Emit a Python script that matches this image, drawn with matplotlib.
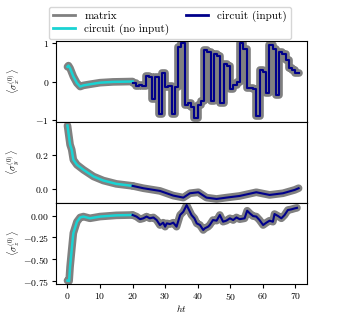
import matplotlib
matplotlib.use("Agg")
import matplotlib.pyplot as plt
from matplotlib.lines import Line2D
import numpy as np

plt.rcParams['font.family'] = 'cmr10'
plt.rcParams['mathtext.fontset'] = 'cm'
plt.rcParams['axes.formatter.use_mathtext'] = True
plt.rcParams['axes.unicode_minus'] = True

# ---- sigma_x (panel 1) ----
tx_free = [0, 0.3, 0.8, 1.8, 2.9, 3.9, 4.9, 7, 10, 14, 20]
sx_free = [0.38, 0.41, 0.34, 0.13, -0.04, -0.13, -0.10, -0.07, -0.03, -0.01, 0.0]
tx_in = list(range(20, 72))
sx_in = [-0.05, -0.12, -0.08, -0.12, 0.15, 0.12, -0.45, 0.12, -0.85, 0.22,
         -0.15, -0.12, -0.85, -0.15, 0.90, 1.00, -0.60, -0.55, -0.65, -0.95,
         -0.60, -0.50, 0.80, 0.75, -0.50, 0.70, 0.65, -0.55, 0.45, 0.40,
         -0.20, -0.10, 0.00, 1.00, 0.85, -0.17, -0.18, -0.20, -0.90, 0.30,
         0.25, -0.30, 0.95, 0.85, -0.35, 0.75, 0.70, 0.55, 0.35, 0.30,
         0.22, 0.22]

# ---- sigma_y (panel 2) ----
ty_free = [0, 0.8, 1.3, 1.8, 2.9, 4.9, 8, 11, 15, 20]
sy_free = [0.378, 0.264, 0.234, 0.174, 0.144, 0.114, 0.074, 0.05, 0.03, 0.018]
ty_in = [20, 23.3, 28.4, 32.5, 35.6, 37.6, 40.2, 42.7, 45.8, 48.8, 52.9,
         58, 62.1, 66.2, 69.8, 71]
sy_in = [0.018, 0.004, -0.012, -0.04, -0.052, -0.026, -0.02, -0.052, -0.06,
         -0.052, -0.042, -0.02, -0.036, -0.026, -0.006, 0.004]

# ---- sigma_z (panel 3) ----
tz_free = [0, 0.5, 0.8, 1.3, 1.8, 2.9, 3.9, 4.9, 6.9, 10, 15, 20]
sz_free = [-0.745, -0.75, -0.585, -0.39, -0.2, -0.07, -0.02, -0.01, -0.03,
           -0.01, 0.004, 0.008]
tz_in = [20, 21.2, 22.3, 23.3, 24.3, 25.3, 26.4, 27.4, 28.4, 29.4, 30, 30.5,
         31.5, 32.5, 33.5, 34.6, 35.6, 36.6, 37.1, 38.1, 39, 39.7, 40.7, 41.7,
         42.2, 43.2, 43.7, 44.7, 45.8, 46.8, 47.8, 48.8, 49.9, 50.9, 51.9,
         52.9, 54.4, 55.2, 56, 57, 58, 59, 60.1, 61.1, 62.1, 63.1, 63.6, 64.7,
         65.7, 66.7, 67.7, 68.8, 69.8, 70.5]
sz_in = [0.008, -0.01, -0.04, -0.03, -0.01, -0.03, -0.02, -0.05, -0.107,
         -0.08, -0.126, -0.088, -0.096, -0.08, -0.126, 0.008, 0.046, 0.122,
         0.084, 0.008, -0.03, -0.088, -0.107, -0.164, -0.145, -0.126, -0.107,
         -0.05, -0.057, 0.008, -0.069, -0.057, -0.03, -0.05, -0.02, -0.04,
         -0.03, 0.057, 0.027, -0.004, -0.01, -0.05, -0.107, -0.08, -0.057,
         -0.069, 0.019, -0.004, -0.03, 0.008, 0.065, 0.073, 0.084, 0.09]

labels = [r'$\langle\sigma_x^{(0)}\rangle$', r'$\langle\sigma_y^{(0)}\rangle$',
          r'$\langle\sigma_z^{(0)}\rangle$']
yticks = [[-1, 0, 1], [0.0, 0.2], [-0.75, -0.50, -0.25, 0.00]]
ylims = [(-1.04, 1.05), (-0.084, 0.40), (-0.785, 0.146)]
xticks = [0, 10, 20, 30, 40, 50, 60, 70]

GRAY = '#808080'
CYAN = '#1ad3d3'
NAVY = '#00008b'

fig = plt.figure(figsize=(3.41, 3.16), dpi=100)
axes = fig.subplots(3, 1, sharex=True, gridspec_kw=dict(hspace=0))
fig.subplots_adjust(left=0.164, right=0.900, top=0.871, bottom=0.101)

data = [(tx_free, sx_free, tx_in, sx_in, 'steps-post'),
        (ty_free, sy_free, ty_in, sy_in, 'default'),
        (tz_free, sz_free, tz_in, sz_in, 'default')]

for i, (ax, (tf, vf, ti, vi, ds)) in enumerate(zip(axes, data)):
    ax.plot(tf, vf, color=GRAY, lw=5.5, solid_capstyle='round', zorder=1)
    ax.plot(ti, vi, color=GRAY, lw=5.5, drawstyle=ds, solid_capstyle='round',
            solid_joinstyle='round', zorder=1)
    ax.plot(tf, vf, color=CYAN, lw=1.8, zorder=2)
    ax.plot(ti, vi, color=NAVY, lw=1.5, drawstyle=ds, zorder=2)
    ax.set_ylim(*ylims[i])
    ax.set_yticks(yticks[i])
    ax.set_ylabel(labels[i], fontsize=7)
    ax.tick_params(labelsize=7, length=3, pad=2)
    if i < 2:
        ax.tick_params(axis='x', bottom=False)

axes[0].yaxis.set_major_formatter(matplotlib.ticker.FuncFormatter(
    lambda v, p: r'$%d$' % v if v >= 0 else r'$-%d$' % (-v)))
axes[1].yaxis.set_major_formatter(matplotlib.ticker.FuncFormatter(
    lambda v, p: r'$%.1f$' % v))
axes[2].yaxis.set_major_formatter(matplotlib.ticker.FuncFormatter(
    lambda v, p: r'$%.2f$' % v if v >= 0 else r'$-%.2f$' % (-v)))

axes[2].set_xlim(-3.55, 73.55)
axes[2].set_xticks(xticks)
axes[2].set_xlabel(r'$ht$', fontsize=7, labelpad=1)

for ax in axes:
    ax.yaxis.set_label_coords(-0.135, 0.5)

handles = [Line2D([], [], color=GRAY, lw=2),
           Line2D([], [], color=CYAN, lw=2),
           Line2D([], [], color=NAVY, lw=2)]
fig.legend(handles, ['matrix', 'circuit (no input)', 'circuit (input)'],
           loc='upper center', bbox_to_anchor=(0.4985, 0.997), ncol=2,
           fontsize=8, frameon=True, handlelength=2.0, columnspacing=1.5,
           borderpad=0.35, labelspacing=0.3, fancybox=True)

fig.savefig('out.png', dpi=100)
